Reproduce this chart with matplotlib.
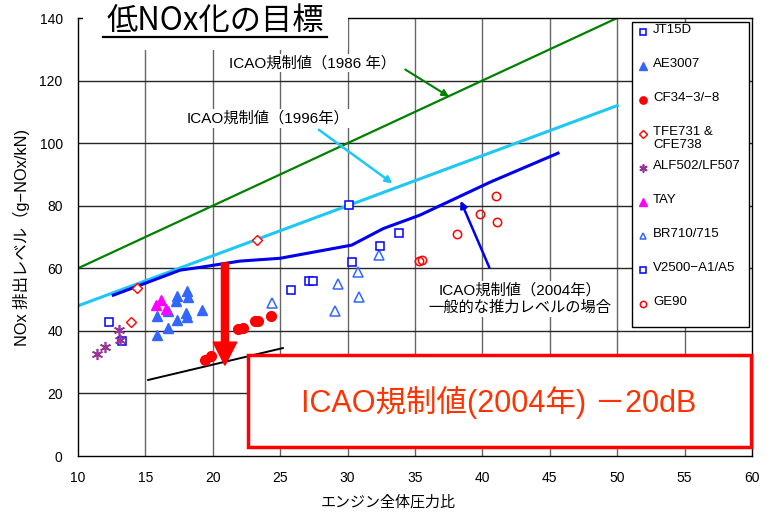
import numpy as np
import matplotlib
matplotlib.use('Agg')
import matplotlib.pyplot as plt
from matplotlib.patches import Rectangle
from matplotlib.lines import Line2D

plt.rcParams['font.family'] = ['Liberation Sans', 'Noto Sans CJK JP', 'DejaVu Sans']

# ---- data ----
jt15d_x = [12.3, 13.24]
jt15d_y = [42.9, 36.8]

ae3007_x = [18.06, 18.18, 17.32, 17.27, 15.88, 16.70, 17.32, 18.01, 18.06, 19.18, 16.70, 15.88]
ae3007_y = [52.8, 50.7, 51.1, 49.6, 44.8, 46.4, 43.5, 45.6, 44.3, 46.6, 40.8, 38.7]

cf34_x = [19.42, 19.84, 21.89, 22.26, 23.13, 23.35, 24.34]
cf34_y = [30.7, 32.0, 40.5, 40.8, 43.0, 43.3, 44.7]

tfe731_x = [13.91, 14.35, 23.28]
tfe731_y = [42.7, 53.6, 69.0]

alf502_x = [13.04, 13.12, 12.0, 11.39]
alf502_y = [40.3, 37.1, 34.7, 32.5]

tay_x = [16.16, 15.79, 16.51]
tay_y = [49.8, 48.2, 46.9]

br710_x = [24.41, 29.27, 29.04, 30.79, 30.87, 32.35]
br710_y = [49.0, 54.9, 46.4, 58.9, 50.9, 64.4]

v2500_x = [30.13, 33.81, 32.43, 30.30, 27.14, 27.46, 25.80]
v2500_y = [80.3, 71.4, 67.2, 62.1, 56.0, 56.0, 53.2]

ge90_x = [41.0, 39.82, 41.08, 38.09, 35.30, 35.52]
ge90_y = [83.2, 77.3, 74.9, 70.8, 62.3, 62.8]

# ICAO limits
icao1986_x = [10, 50]
icao1986_y = [60, 140]
icao1996_x = [10, 50]
icao1996_y = [48, 112]
icao2004_x = [12.62, 15.10, 17.57, 19.05, 22.02, 24.99, 30.30, 32.65, 35.37, 40.56, 45.61]
icao2004_y = [51.4, 55.4, 59.4, 60.3, 62.3, 63.2, 67.4, 72.7, 77.0, 87.5, 96.8]
target_x = [15.2, 25.2]
target_y = [24.3, 34.5]

W, H = 776, 512
fig = plt.figure(figsize=(W / 100, H / 100), dpi=100)
ax = fig.add_axes([78 / W, 56 / H, 674 / W, 438 / H])
ax.set_xlim(10, 60)
ax.set_ylim(0, 140)
ax.set_xticks(np.arange(10, 61, 5))
ax.set_yticks(np.arange(0, 141, 20))
ax.tick_params(length=0, pad=11, labelsize=10)
for s in ax.spines.values():
    s.set_color('black')
    s.set_linewidth(1)

# grid
for xv in np.arange(15, 60, 5):
    ax.axvline(xv, color='0.4', lw=1, zorder=0.5)
for yv in np.arange(20, 140, 20):
    ax.axhline(yv, color='0.15', lw=1, zorder=0.5)

ax.set_xlabel('エンジン全体圧力比', fontsize=10.8, labelpad=7, x=0.46)
ax.set_ylabel('NOx 排出レベル（g−NOx/kN)', fontsize=11.8, labelpad=7)

# limit lines
ax.plot(icao1986_x, icao1986_y, color='#008000', lw=1.6, zorder=2)
ax.plot(icao1996_x, icao1996_y, color='#1EC8F5', lw=2.2, zorder=2)
ax.plot(icao2004_x, icao2004_y, color='#0000EE', lw=2.2, zorder=2)
ax.plot(target_x, target_y, color='black', lw=1.4, zorder=2)

# engines
blue = '#0000FF'
lblue = '#3366FF'
red = '#FF0000'
purple = '#993399'
series = [
    ('JT15D', jt15d_x, jt15d_y, dict(marker='s', ms=6, mfc='white', mec=blue, mew=1.1)),
    ('AE3007', ae3007_x, ae3007_y, dict(marker='^', ms=7, mfc=lblue, mec=lblue, mew=1)),
    ('CF34−3/−8', cf34_x, cf34_y, dict(marker='o', ms=7, mfc=red, mec=red, mew=1)),
    ('TFE731 &\nCFE738', tfe731_x, tfe731_y, dict(marker='D', ms=5, mfc='white', mec=red, mew=1)),
    ('ALF502/LF507', alf502_x, alf502_y, dict(marker=(6, 2, 0), ms=8, mec=purple, mew=1.2)),
    ('TAY', tay_x, tay_y, dict(marker='^', ms=7, mfc='#FF00FF', mec='#FF00FF', mew=1)),
    ('BR710/715', br710_x, br710_y, dict(marker='^', ms=6.5, mfc='white', mec=lblue, mew=1.1)),
    ('V2500−A1/A5', v2500_x, v2500_y, dict(marker='s', ms=6, mfc='white', mec=blue, mew=1.1)),
    ('GE90', ge90_x, ge90_y, dict(marker='o', ms=6, mfc='none', mec=red, mew=1.1)),
]
for name, xs, ys, st in series:
    ax.plot(xs, ys, ls='none', zorder=3, **st)

# annotations
box = dict(facecolor='white', edgecolor='none', pad=1.5)
ax.text(27.4, 125.6, 'ICAO規制値（1986 年）', fontsize=11, ha='center', va='center', bbox=box, zorder=4)
ax.text(24.1, 108.0, 'ICAO規制値（1996年）', fontsize=11, ha='center', va='center', bbox=box, zorder=4)
ax.text(42.8, 50.2, 'ICAO規制値（2004年）\n一般的な推力レベルの場合', fontsize=11, ha='center',
        va='center', linespacing=1.25, bbox=box, zorder=4)
ax.annotate('', xy=(37.7, 114.4), xytext=(34.1, 124),
            arrowprops=dict(arrowstyle='-|>', color='#008000', lw=1.5, mutation_scale=10), zorder=4)
ax.annotate('', xy=(33.5, 86.6), xytext=(27.7, 104.8),
            arrowprops=dict(arrowstyle='-|>', color='#1EC8F5', lw=1.8, mutation_scale=10), zorder=4)
ax.annotate('', xy=(38.3, 82.4), xytext=(40.6, 59.4),
            arrowprops=dict(arrowstyle='-|>', color='#0000EE', lw=1.8, mutation_scale=10), zorder=4)

# big red arrow
ax.arrow(20.9, 61.7, 0, -32.7, width=0.52, head_width=1.75, head_length=7.4,
         length_includes_head=True, color='red', zorder=5)

# title with white cover
def fx(px):
    return px / W

def fy(py):
    return 1 - py / H

fig.patches.append(Rectangle((fx(83), fy(50)), (348 - 83) / W, 50 / H, transform=fig.transFigure,
                             facecolor='white', edgecolor='none', zorder=3))
fig.text(fx(215), fy(21), '低NOx化の目標', fontsize=22.5, ha='center', va='center', zorder=4,
         family=['Noto Sans CJK JP', 'DejaVu Sans'])
fig.lines.append(Line2D([fx(103), fx(327)], [fy(37), fy(37)], transform=fig.transFigure,
                        color='black', lw=1.6, zorder=4))

# legend box drawn by hand
fig.patches.append(Rectangle((fx(632), fy(327)), (749 - 632) / W, (327 - 22) / H,
                             transform=fig.transFigure, facecolor='white', edgecolor='black',
                             lw=1, zorder=5))
for i, (name, xs, ys, st) in enumerate(series):
    yc = 32 + 34 * i
    st2 = dict(st)
    st2['ms'] = st.get('ms', 6) * 0.75
    fig.lines.append(Line2D([fx(643)], [fy(yc)], transform=fig.transFigure, ls='none', zorder=6, **st2))
    fig.text(fx(653), fy(yc - 8), name, fontsize=9.5, ha='left', va='top', zorder=6, linespacing=1.1)

# red target box
fig.patches.append(Rectangle((fx(248), fy(447)), (751 - 248) / W, (447 - 355) / H,
                             transform=fig.transFigure, facecolor='white', edgecolor='#FF0000',
                             lw=2.5, zorder=6))
fig.text(fx(499), fy(402), 'ICAO規制値(2004年) －20dB', fontsize=22, color='#FF3300',
         ha='center', va='center', zorder=7)

fig.savefig('out.png', dpi=100)
